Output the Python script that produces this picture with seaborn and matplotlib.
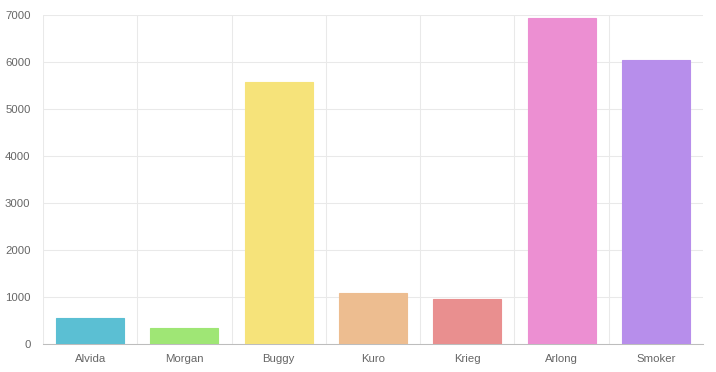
import matplotlib
matplotlib.use("Agg")
import matplotlib.pyplot as plt
import seaborn as sns
import pandas as pd
import numpy as np

categories = ["Alvida", "Morgan", "Buggy", "Kuro", "Krieg", "Arlong", "Smoker"]
values = [550, 350, 5570, 1090, 950, 6930, 6040]
colors = ["#5bbfd3", "#9fe675", "#f6e37a", "#edbd90", "#e98f8f", "#ec8fd2", "#b78eeb"]
yticks = [0, 1000, 2000, 3000, 4000, 5000, 6000, 7000]

sns.set_style("white")
plt.rcParams["font.family"] = ["Liberation Sans", "DejaVu Sans"]

df = pd.DataFrame({"name": categories, "value": values})

fig = plt.figure(figsize=(7.16, 3.72), dpi=100)
ax = fig.add_axes([43 / 716, (372 - 344) / 372, (703 - 43) / 716, (344 - 15) / 372])

sns.barplot(data=df, x="name", y="value", hue="name", palette=colors,
            width=0.72, legend=False, ax=ax, linewidth=0.8, saturation=1, zorder=3)
for patch, c in zip(ax.patches, colors):
    patch.set_facecolor(c)
    patch.set_edgecolor(c)

ax.set_xlim(-0.5, 6.5)
ax.set_ylim(0, 7000)
ax.set_yticks(yticks)
ax.set_yticklabels([str(v) for v in yticks])
ax.set_xticks(range(len(categories)))
ax.set_xticklabels(categories)
ax.set_xticks(np.arange(-0.5, 6.0, 1.0), minor=True)

ax.set_xlabel("")
ax.set_ylabel("")

grid_c = "#e9e9e9"
ax.tick_params(axis="x", which="major", length=0, pad=7, labelsize=8.2, labelcolor="#666666")
ax.tick_params(axis="x", which="minor", length=6, color=grid_c, width=0.75)
ax.tick_params(axis="y", which="major", length=5, color=grid_c, width=0.75, pad=4,
               labelsize=8.2, labelcolor="#666666")

ax.grid(axis="y", which="major", color=grid_c, linewidth=0.75, zorder=0)
ax.grid(axis="x", which="minor", color=grid_c, linewidth=0.75, zorder=0)
ax.grid(axis="x", which="major", visible=False)
ax.set_axisbelow(True)

for s in ["top", "right", "left"]:
    ax.spines[s].set_visible(False)
ax.spines["bottom"].set_color("#bdbdbd")
ax.spines["bottom"].set_linewidth(0.75)

fig.savefig("out.png", dpi=100)
